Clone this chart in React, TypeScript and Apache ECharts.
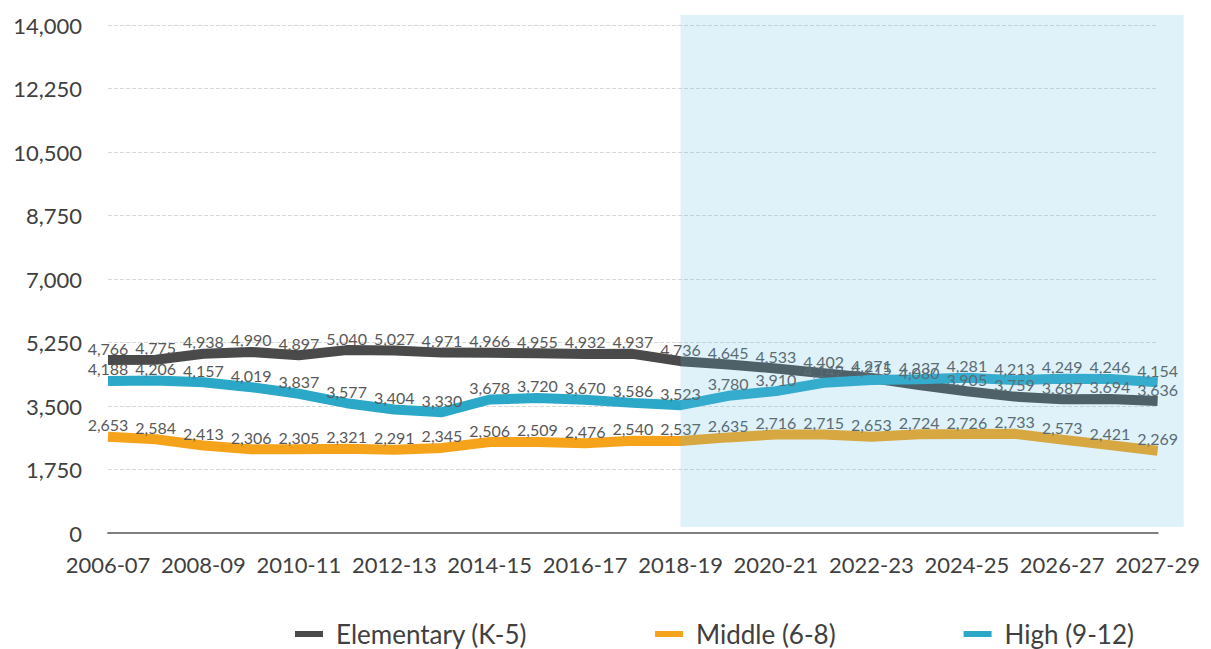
import React, { useEffect, useRef } from "react";
import * as echarts from "echarts";

const categories = [
  "2006-07", "2007-08", "2008-09", "2009-10", "2010-11", "2011-12", "2012-13", "2013-14",
  "2014-15", "2015-16", "2016-17", "2017-18", "2018-19", "2019-20", "2020-21", "2021-22",
  "2022-23", "2023-24", "2024-25", "2025-26", "2026-27", "2027-28", "2027-29",
];
const elementary = [4766, 4775, 4938, 4990, 4897, 5040, 5027, 4971, 4966, 4955, 4932, 4937, 4736, 4645, 4533, 4402, 4271, 4080, 3905, 3759, 3687, 3694, 3636];
const middle = [2653, 2584, 2413, 2306, 2305, 2321, 2291, 2345, 2506, 2509, 2476, 2540, 2537, 2635, 2716, 2715, 2653, 2724, 2726, 2733, 2573, 2421, 2269];
const high = [4188, 4206, 4157, 4019, 3837, 3577, 3404, 3330, 3678, 3720, 3670, 3586, 3523, 3780, 3910, 4142, 4215, 4237, 4281, 4213, 4249, 4246, 4154];
const projectionStart = "2018-19";

const FONT = "Lato, 'Open Sans', sans-serif";

export default function App() {
  const ref = useRef<HTMLDivElement>(null);
  useEffect(() => {
    if (!ref.current) return;
    const chart = echarts.init(ref.current, null, { renderer: "svg" });
    const mk = (name: string, data: number[], color: string) => ({
      name,
      type: "line",
      data,
      symbol: "circle",
      symbolSize: 0.1,
      lineStyle: { width: 10, color },
      itemStyle: { color },
      label: {
        show: true,
        position: "top",
        distance: 4,
        color: "#595959",
        fontSize: 16,
        fontFamily: FONT,
        formatter: (p: any) => Number(p.value).toLocaleString("en-US"),
      },
      z: 3,
    });
    chart.setOption({
      animation: false,
      backgroundColor: "#fff",
      grid: { left: 100, right: 39, top: 17, bottom: 116 },
      xAxis: {
        type: "category",
        data: categories,
        boundaryGap: false,
        axisLine: { lineStyle: { color: "#7f7f7f", width: 2 } },
        axisTick: { show: false },
        axisLabel: { interval: 1, color: "#404040", fontSize: 22, fontFamily: FONT, margin: 20 },
      },
      yAxis: {
        type: "value",
        min: 0,
        max: 14000,
        interval: 1750,
        axisLine: { show: false },
        axisTick: { show: false },
        axisLabel: {
          color: "#404040",
          fontSize: 22,
          fontFamily: FONT,
          margin: 26,
          formatter: (v: number) => v.toLocaleString("en-US"),
        },
        splitLine: { lineStyle: { color: "#d9d9d9", type: "dashed", width: 1 } },
      },
      legend: {
        top: 608,
        left: 282,
        itemGap: 128,
        itemWidth: 28,
        itemHeight: 6,
        icon: "rect",
        textStyle: { color: "#404040", fontSize: 26, fontFamily: FONT, padding: [0, 0, 0, 8] },
        data: ["Elementary (K-5)", "Middle (6-8)", "High (9-12)"],
      },
      series: [
        mk("Elementary (K-5)", elementary, "#4a4a4a"),
        mk("Middle (6-8)", middle, "#f5a31a"),
        mk("High (9-12)", high, "#2ba8c8"),
      ],
    });
    const idx = categories.indexOf(projectionStart);
    const x0 = chart.convertToPixel({ xAxisIndex: 0 }, idx) as number;
    const x1 = chart.convertToPixel({ xAxisIndex: 0 }, categories.length - 1) as number;
    const yTop = chart.convertToPixel({ yAxisIndex: 0 }, 14000) as number;
    const yBot = chart.convertToPixel({ yAxisIndex: 0 }, 0) as number;
    chart.setOption({
      graphic: [
        {
          type: "rect",
          shape: { x: x0, y: yTop - 10, width: x1 - x0 + 26, height: yBot - 6 - (yTop - 10) },
          style: { fill: "rgba(95,185,225,0.2)" },
          z: 100,
          silent: true,
        },
      ],
    });
    return () => chart.dispose();
  }, []);
  return <div ref={ref} style={{ width: 1195, height: 641 }} />;
}
